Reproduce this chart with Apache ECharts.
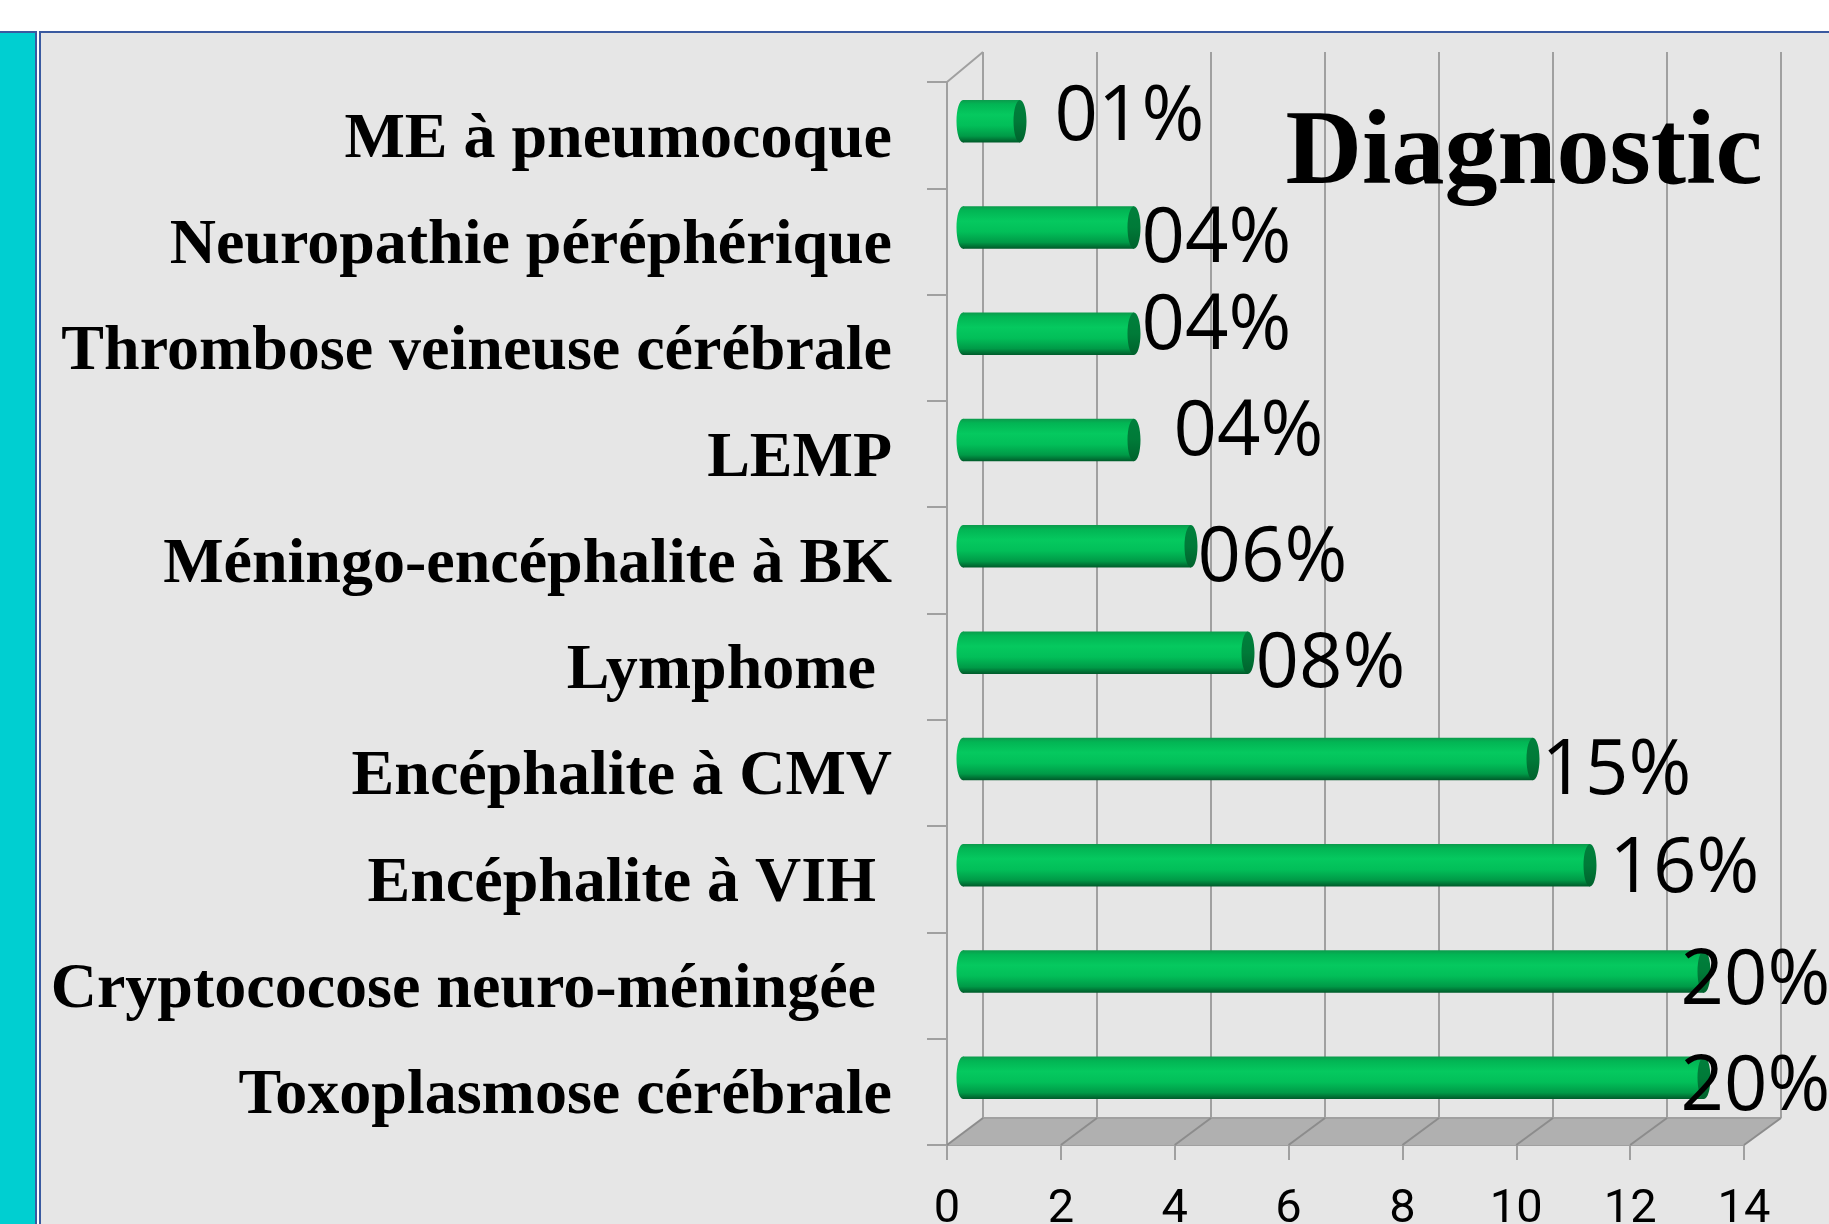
<!DOCTYPE html>
<html>
<head>
<meta charset="utf-8">
<script src="https://cdn.jsdelivr.net/npm/echarts@6/dist/echarts.min.js"></script>
<style>
  html, body { margin: 0; padding: 0; background: #fff; }
  .page { position: relative; width: 1829px; height: 1224px; overflow: hidden; background: #fff; }
  .side { position: absolute; left: 0; top: 31px; width: 35px; height: 1200px; background: #00cfd1; border-top: 2px solid #3a5aa0; border-right: 2px solid #3a5aa0; }
  .panel { position: absolute; left: 39px; top: 31px; right: 0; bottom: 0; background: #e6e6e6; border-top: 2px solid #3a5aa0; border-left: 2px solid #3a5aa0; }
  #chart { position: absolute; left: 0; top: 0; width: 1829px; height: 1224px; }
</style>
</head>
<body>
<div class="page">
  <div class="side"></div>
  <div class="panel"></div>
  <div id="chart"></div>
</div>
<script>
// bottom to top, as ECharts lays out a category axis
const categories = [
  'Toxoplasmose cérébrale',
  'Cryptococose neuro-méningée ',
  'Encéphalite à VIH ',
  'Encéphalite à CMV',
  'Lymphome ',
  'Méningo-encéphalite à BK',
  'LEMP',
  'Thrombose veineuse cérébrale',
  'Neuropathie péréphérique',
  'ME à pneumocoque'
];
const values = [13, 13, 11, 10, 5, 4, 3, 3, 3, 1];
const pctLabels = ['20%', '20%', '16%', '15%', '08%', '06%', '04%', '04%', '04%', '01%'];
const xMin = 0;
const xMax = 14;
const xStep = 2;

// hand placed labels in the original (dx from bar end, dy from bar centre)
const labelShift = [[-26, 7], [-26, 8], [17, 2], [6, 10], [5, 10], [4, 10], [37, -10], [5, -9], [5, 10], [32, -6]];

// pseudo 3d box: front plane, back wall, bars at mid depth
const FRONT = { left: 947, top: 82, width: 797, height: 1063 };
const BACK = { left: 983, top: 52, width: 798, height: 1066 };
const BARS = { left: 963, top: 68, width: 798, height: 1063 };

const gridLine = '#a0a0a0';

const chart = echarts.init(document.getElementById('chart'));

const cylinderFill = new echarts.graphic.LinearGradient(0, 0, 0, 1, [
  { offset: 0, color: '#0c9a4c' },
  { offset: 0.1, color: '#02b554' },
  { offset: 0.35, color: '#05c95f' },
  { offset: 0.6, color: '#02bf59' },
  { offset: 0.85, color: '#009a47' },
  { offset: 1, color: '#005a2a' }
]);
const capFill = new echarts.graphic.LinearGradient(0, 0, 0, 1, [
  { offset: 0, color: '#00803c' },
  { offset: 0.5, color: '#007a38' },
  { offset: 1, color: '#00612c' }
]);

function renderCylinder(params, api) {
  const i = params.dataIndex;
  const start = api.coord([0, api.value(1)]);
  const end = api.coord([api.value(0), api.value(1)]);
  const h = api.size([0, 1])[1] * 0.4;
  const rx = 6.5;
  const cy = start[1];
  const shift = labelShift[i];
  return {
    type: 'group',
    children: [
      { type: 'ellipse', shape: { cx: start[0], cy: cy, rx: rx, ry: h / 2 }, style: { fill: cylinderFill } },
      { type: 'rect', shape: { x: start[0], y: cy - h / 2, width: end[0] - start[0], height: h }, style: { fill: cylinderFill } },
      { type: 'ellipse', shape: { cx: end[0], cy: cy, rx: rx, ry: h / 2 }, style: { fill: capFill } },
      {
        type: 'text',
        z2: 10,
        x: end[0] + rx + shift[0] - 4,
        y: cy + shift[1] + 3,
        style: {
          text: pctLabels[i],
          font: '76px "Open Sans"',
          fill: '#000',
          align: 'left',
          verticalAlign: 'middle'
        }
      }
    ]
  };
}

const makeGrid = box => Object.assign({ containLabel: false, outerBoundsMode: 'none' }, box);

const option = {
  animation: false,
  backgroundColor: 'transparent',
  title: {
    text: 'Diagnostic',
    left: 1519,
    top: 98,
    textAlign: 'center',
    textStyle: { fontFamily: 'Liberation Serif', fontWeight: 'bold', fontSize: 106, color: '#000' }
  },
  grid: [makeGrid(BACK), makeGrid(FRONT), makeGrid(BARS)],
  xAxis: [
    {
      gridIndex: 0, type: 'value', min: xMin, max: xMax, interval: xStep,
      axisLine: { show: false }, axisTick: { show: false }, axisLabel: { show: false },
      splitLine: { show: true, lineStyle: { color: gridLine, width: 2 } }
    },
    {
      gridIndex: 1, type: 'value', min: xMin, max: xMax, interval: xStep,
      axisLine: { show: true, lineStyle: { color: gridLine, width: 2 } },
      axisTick: { show: true, length: 15, lineStyle: { color: gridLine, width: 2 } },
      axisLabel: { margin: 42, color: '#000', fontFamily: 'Roboto', fontSize: 47 },
      splitLine: { show: false }
    },
    {
      gridIndex: 2, type: 'value', min: xMin, max: xMax, interval: xStep, show: false,
      splitLine: { show: false }
    }
  ],
  yAxis: [
    { gridIndex: 0, type: 'category', data: categories, show: false },
    {
      gridIndex: 1, type: 'category', data: categories,
      axisLine: { show: true, lineStyle: { color: gridLine, width: 2 } },
      axisTick: { show: true, length: 20, lineStyle: { color: gridLine, width: 2 } },
      axisLabel: {
        margin: 55, verticalAlign: 'top', lineHeight: 10, color: '#000',
        fontFamily: 'Liberation Serif', fontWeight: 'bold', fontSize: 64
      },
      splitLine: { show: false }
    },
    { gridIndex: 2, type: 'category', data: categories, show: false }
  ],
  series: [{
    type: 'custom',
    xAxisIndex: 2,
    yAxisIndex: 2,
    clip: false,
    z: 5,
    renderItem: renderCylinder,
    data: values.map((v, i) => [v, i])
  }]
};

chart.setOption(option);

// floor and left wall edges, placed from the two value axes
function buildDecor() {
  const fy = FRONT.top + FRONT.height;
  const by = BACK.top + BACK.height;
  const fx = v => chart.convertToPixel({ xAxisIndex: 1 }, v);
  const bx = v => chart.convertToPixel({ xAxisIndex: 0 }, v);
  const els = [{
    type: 'polygon', z: 1,
    shape: { points: [[fx(xMin), fy], [fx(xMax), fy], [bx(xMax), by], [bx(xMin), by]] },
    style: { fill: '#b0b0b0' }
  }, {
    type: 'line', z: 2,
    shape: { x1: bx(xMin), y1: by, x2: bx(xMax), y2: by },
    style: { stroke: gridLine, lineWidth: 2 }
  }, {
    type: 'line', z: 2,
    shape: { x1: FRONT.left, y1: FRONT.top, x2: BACK.left, y2: BACK.top },
    style: { stroke: gridLine, lineWidth: 2 }
  }];
  for (let v = xMin; v <= xMax; v += xStep) {
    els.push({
      type: 'line', z: 2,
      shape: { x1: fx(v), y1: fy, x2: bx(v), y2: by },
      style: { stroke: '#8c8c8c', lineWidth: 2 }
    });
  }
  return els;
}

chart.setOption({ graphic: buildDecor() });
</script>
</body>
</html>
